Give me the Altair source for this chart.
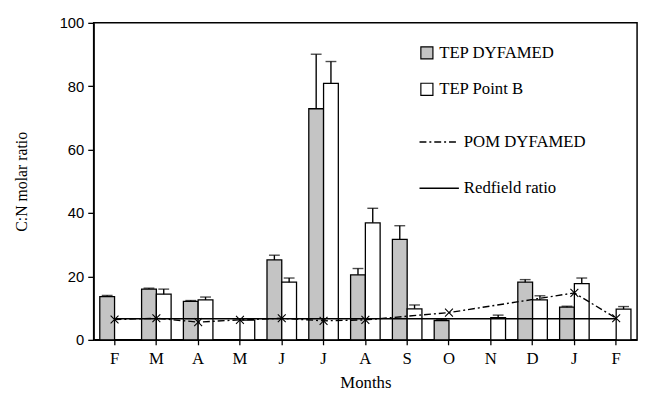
import altair as alt

# ---------------- data ----------------
MONTHS = ["F", "M", "A", "M", "J", "J", "A", "S", "O", "N", "D", "J", "F"]
TEP_DYFAMED = [13.6, 16.0, 12.1, None, 25.2, 72.9, 20.5, 31.7, 6.1, None, 18.2, 10.3, None]
TEP_DYFAMED_SD = [0.4, 0.3, 0.3, None, 1.5, 17.2, 2.0, 4.3, 0.3, None, 0.8, 0.3, None]
TEP_POINT_B = [None, 14.4, 12.6, 6.2, 18.2, 80.9, 36.9, 9.8, None, 7.0, 12.6, 17.7, 9.7]
TEP_POINT_B_SD = [None, 1.6, 0.9, None, 1.3, 6.9, 4.6, 1.2, None, 0.8, 1.3, 1.8, 0.8]
POM_DYFAMED = [6.4, 6.8, 5.6, 6.3, 6.8, 6.0, 6.3, None, 8.6, None, None, 14.8, 6.8]
REDFIELD = [6.625] * 13
SERIES = ["TEP DYFAMED", "TEP Point B", "POM DYFAMED", "Redfield ratio"]
Y_TICKS = list(range(0, 101, 10))

# ---------------- layout / style ----------------
W, H = 552, 322
BAR_W = 15
SERIF = "Liberation Serif"

# unique category names that still read as the month letters
cats = []
for m in MONTHS:
    name = m
    while name in cats:
        name += "\u200b"
    cats.append(name)


def rows(values, sds, series):
    bars, errs = [], []
    for c, v, sd in zip(cats, values, sds):
        if v is not None:
            bars.append({"month": c, "v": v, "series": series})
            if sd is not None:
                errs.append({"month": c, "v": v, "hi": v + sd})
    return bars, errs


dyf_bars, dyf_errs = rows(TEP_DYFAMED, TEP_DYFAMED_SD, SERIES[0])
pb_bars, pb_errs = rows(TEP_POINT_B, TEP_POINT_B_SD, SERIES[1])
pom_rows = [{"month": c, "v": v, "series": SERIES[2]}
            for c, v in zip(cats, POM_DYFAMED) if v is not None]
red_rows = [{"month": c, "v": v, "series": SERIES[3]} for c, v in zip(cats, REDFIELD)]

# ---------------- encodings ----------------
x_axis = alt.Axis(
    tickSize=5, labelAngle=0, labelFont=SERIF, labelFontSize=17, labelPadding=6,
    titleFont=SERIF, titleFontSize=17, titlePadding=8,
)
y_axis = alt.Axis(
    values=Y_TICKS, tickSize=6, labelFont="Liberation Sans", labelFontSize=15,
    labelPadding=4, titleFont=SERIF, titleFontSize=16, titlePadding=30,
)
X = alt.X("month:N", scale=alt.Scale(domain=cats, paddingInner=0, paddingOuter=0),
          axis=x_axis, title="Months")
YS = alt.Scale(domain=[0, 100], nice=False, zero=True)

fill_legend = alt.Legend(
    title=None, orient="none", legendX=330, legendY=22, symbolType="square",
    symbolSize=150, symbolStrokeColor="black", symbolStrokeWidth=1.2,
    labelFont=SERIF, labelFontSize=17, labelColor="black", rowPadding=18,
)
dash_legend = alt.Legend(
    title=None, orient="none", legendX=330, legendY=100, symbolType="stroke",
    symbolSize=1600, symbolStrokeColor="black", symbolStrokeWidth=1.4,
    labelFont=SERIF, labelFontSize=17, labelColor="black", rowPadding=18,
)
FILL = alt.Fill("series:N", scale=alt.Scale(domain=SERIES[:2], range=["#c4c4c4", "#ffffff"]),
                legend=fill_legend)
DASH = alt.StrokeDash("series:N", scale=alt.Scale(domain=SERIES[2:], range=[[7, 3, 2, 3], [1, 0]]),
                      legend=dash_legend)


def bar_layers(bar_rows, err_rows, dx):
    b = alt.Chart(alt.Data(values=bar_rows)).mark_bar(
        width=BAR_W, xOffset=dx, stroke="black", strokeWidth=1.3).encode(
        x=X, y=alt.Y("v:Q", scale=YS, axis=y_axis, title="C:N molar ratio"), fill=FILL)
    e = alt.Chart(alt.Data(values=err_rows)).mark_rule(
        xOffset=dx, color="black", strokeWidth=1.4).encode(
        x=X, y=alt.Y("v:Q", scale=YS), y2="hi:Q")
    c = alt.Chart(alt.Data(values=err_rows)).mark_tick(
        xOffset=dx, color="black", thickness=1.4, size=11).encode(
        x=X, y=alt.Y("hi:Q", scale=YS))
    return [b, e, c]


red_line = alt.Chart(alt.Data(values=red_rows)).mark_line(color="black", strokeWidth=1.5).encode(
    x=X, y=alt.Y("v:Q", scale=YS), strokeDash=DASH)
pom_line = alt.Chart(alt.Data(values=pom_rows)).mark_line(
    color="black", strokeWidth=1.4).encode(
    x=X, y=alt.Y("v:Q", scale=YS), strokeDash=DASH)
pom_pts = alt.Chart(alt.Data(values=pom_rows)).mark_point(
    shape="M-1,-1L1,1M-1,1L1,-1", size=64, filled=False, color="black",
    strokeWidth=1.1, opacity=1).encode(x=X, y=alt.Y("v:Q", scale=YS))

layers = (bar_layers(dyf_bars, dyf_errs, -BAR_W / 2)
          + bar_layers(pb_bars, pb_errs, BAR_W / 2)
          + [red_line, pom_line, pom_pts])

chart = alt.layer(*layers).properties(
    width=W, height=H,
).configure_view(
    stroke="black", strokeWidth=1.5
).configure_axis(
    grid=False, domainColor="black", domainWidth=1.3, tickColor="black", tickWidth=1.3,
    labelColor="black", titleColor="black", titleFontWeight="normal",
)

chart.save("out.html", embed_options={"renderer": "svg", "actions": False})
